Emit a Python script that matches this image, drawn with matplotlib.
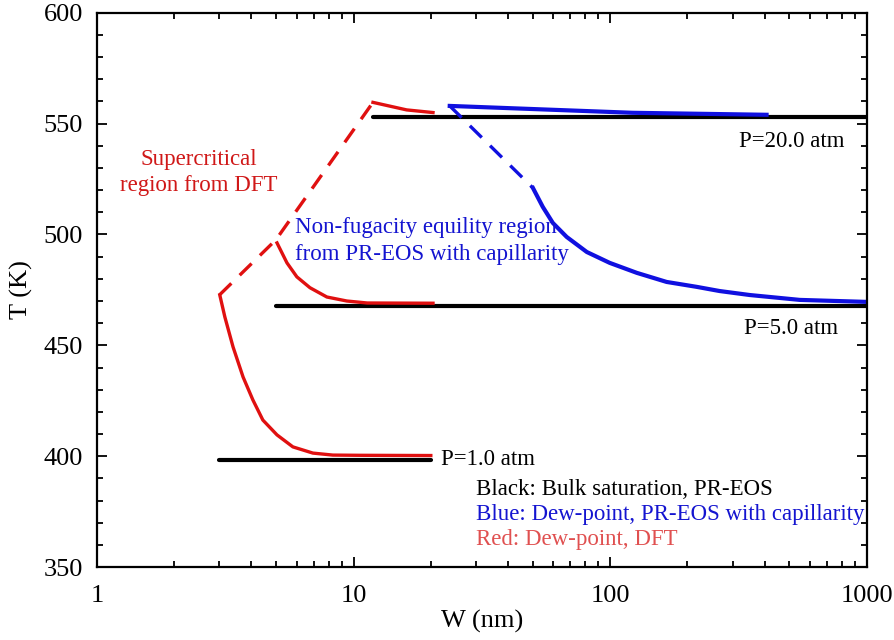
import numpy as np
import matplotlib
matplotlib.use("Agg")
import matplotlib.pyplot as plt
from matplotlib.ticker import LogLocator, MultipleLocator, NullFormatter

plt.rcParams["font.family"] = ["Liberation Serif", "DejaVu Serif"]

# Bulk saturation lines (PR-EOS)
bulk_p1_w = [3.0, 20.0]
bulk_p1_t = [398.3, 398.3]
bulk_p5_w = [5.0, 1000.0]
bulk_p5_t = [467.8, 467.8]
bulk_p20_w = [11.9, 1000.0]
bulk_p20_t = [553.2, 553.2]

# DFT dew-point (red)
dft_p1_w = [3.01, 3.15, 3.39, 3.71, 4.05, 4.43, 5.03, 5.8, 6.94, 8.3, 10.6, 20.0]
dft_p1_t = [472.7, 462.8, 449.3, 435.7, 425.4, 416.3, 409.6, 404.2, 401.4, 400.5, 400.4, 400.3]
dft_p5_w = [5.03, 5.5, 6.01, 6.76, 7.87, 9.41, 11.3, 20.4]
dft_p5_t = [496.2, 487.2, 480.9, 476.0, 471.8, 470.0, 469.1, 469.0]
dft_p20_w = [11.9, 16.1, 20.4]
dft_p20_t = [559.6, 556.2, 555.0]
dft_super_w = [3.0, 4.98, 11.9]
dft_super_t = [472.7, 497.6, 559.6]

# PR-EOS with capillarity dew-point (blue)
cap_top_w = [23.7, 122.0, 407.0]
cap_top_t = [558.0, 554.9, 554.0]
cap_dash_w = [23.7, 50.0]
cap_dash_t = [558.0, 521.0]
cap_p5_w = [50.0, 54.6, 59.8, 67.7, 81.1, 99.6, 127.0, 166.0, 217.0, 267.0, 350.0, 548.0, 1000.0]
cap_p5_t = [521.0, 512.5, 505.2, 498.9, 492.1, 487.2, 482.7, 478.6, 476.4, 474.5, 472.7, 470.5, 469.6]

red = "#e01010"
blue = "#1010e0"

fig = plt.figure(figsize=(8.94, 6.40), dpi=100)
ax = fig.add_axes([0.1085, 0.114, 0.861, 0.866])

ax.plot(bulk_p1_w, bulk_p1_t, color="black", lw=3.0, solid_capstyle="round")
ax.plot(bulk_p5_w, bulk_p5_t, color="black", lw=3.0, solid_capstyle="round")
ax.plot(bulk_p20_w, bulk_p20_t, color="black", lw=3.0, solid_capstyle="round")

ax.plot(dft_p1_w, dft_p1_t, color=red, lw=2.4, solid_joinstyle="round")
ax.plot(dft_p5_w, dft_p5_t, color=red, lw=2.4, solid_joinstyle="round")
ax.plot(dft_p20_w, dft_p20_t, color=red, lw=2.4)
ax.plot(dft_super_w, dft_super_t, color=red, lw=2.4, dashes=(5, 3.5))

ax.plot(cap_top_w, cap_top_t, color=blue, lw=3.0)
ax.plot(cap_dash_w, cap_dash_t, color=blue, lw=2.4, dashes=(5, 3.5))
ax.plot(cap_p5_w, cap_p5_t, color=blue, lw=3.0, solid_joinstyle="round")

ax.set_xscale("log")
ax.set_xlim(1, 1000)
ax.set_ylim(350, 600)
ax.xaxis.set_minor_locator(LogLocator(base=10, subs=np.arange(2, 10)))
ax.xaxis.set_minor_formatter(NullFormatter())
ax.set_xticks([1, 10, 100, 1000])
ax.set_xticklabels(["1", "10", "100", "1000"])
ax.yaxis.set_major_locator(MultipleLocator(50))
ax.yaxis.set_minor_locator(MultipleLocator(10))

ax.tick_params(which="both", direction="in", top=True, right=True, width=1.3)
ax.tick_params(which="major", length=7, labelsize=19)
ax.tick_params(axis="x", which="major", pad=13)
ax.tick_params(axis="y", which="major", pad=10)
ax.tick_params(which="minor", length=4)
for s in ax.spines.values():
    s.set_linewidth(1.6)

ax.set_xlabel("W (nm)", fontsize=19, labelpad=2)
ax.set_ylabel("T (K)", fontsize=19, labelpad=8)

fs = 16.5
ax.text(2.5, 528, "Supercritical\nregion from DFT", color="#d01818",
        fontsize=fs, ha="center", va="center", linespacing=1.35)
ax.text(5.9, 497, "Non-fugacity equility region\nfrom PR-EOS with capillarity",
        color="#1414d0", fontsize=fs, ha="left", va="center", linespacing=1.35)
ax.text(820, 542, "P=20.0 atm", fontsize=fs, ha="right", va="center")
ax.text(771, 457.8, "P=5.0 atm", fontsize=fs, ha="right", va="center")
ax.text(21.9, 398.3, "P=1.0 atm", fontsize=fs, ha="left", va="center")
ax.text(29.9, 385.2, "Black: Bulk saturation, PR-EOS", fontsize=fs, color="black", va="center")
ax.text(29.9, 373.9, "Blue: Dew-point, PR-EOS with capillarity", fontsize=fs, color="#1414d0", va="center")
ax.text(29.9, 362.6, "Red: Dew-point, DFT", fontsize=fs, color="#e05050", va="center")

fig.savefig("out.png", dpi=100)
